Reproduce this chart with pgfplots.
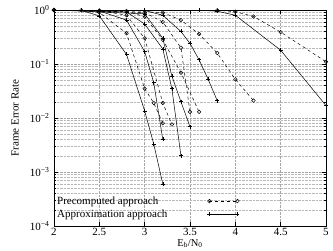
\documentclass[border=0pt]{standalone}
\usepackage{fontspec}
\setmainfont{Liberation Serif}
\usepackage{pgfplots}
\pgfplotsset{compat=1.18}
\begin{document}
\begin{tikzpicture}
\begin{axis}[
  scale only axis,
  width=272pt, height=216pt,
  xmin=2, xmax=5, ymode=log, ymin=1e-4, ymax=1,
  xtick={2,2.5,3,3.5,4,4.5,5},
  xticklabels={2,2.5,3,3.5,4,4.5,5},
  ytick={1e-4,1e-3,1e-2,1e-1,1},
  yticklabels={10\textsuperscript{−4},10\textsuperscript{−3},10\textsuperscript{−2},10\textsuperscript{−1},10\textsuperscript{0}},
  minor x tick num=0,
  grid=both,
  major grid style={densely dotted, gray!70, line width=0.4pt},
  minor grid style={densely dotted, gray!55, line width=0.3pt},
  tick align=inside, tick pos=both,
  axis line style={black, line width=0.5pt},
  tick style={black, line width=0.4pt},
  major tick length=4pt, minor tick length=2pt,
  font=\fontsize{11}{13}\selectfont,
  ticklabel style={font=\fontsize{11}{13}\selectfont},
  xticklabel style={inner sep=2pt},
  yticklabel style={xshift=-1pt},
  xlabel={E\textsubscript{b}/N\textsubscript{0}},
  ylabel={Frame Error Rate},
  every axis x label/.style={at={(axis description cs:0.5,0)}, anchor=north, yshift=-13pt, inner sep=0pt, font=\fontsize{10.5}{12}\selectfont},
  every axis y label/.style={at={(axis description cs:-0.143,0.5)}, anchor=center, rotate=90},
  legend plot pos=right,
  legend style={at={(axis cs:2,1e-4)}, anchor=south west, draw=none, fill=none,
    font=\fontsize{11}{12}\selectfont, row sep=0pt, column sep=38pt, inner sep=1pt,
    yshift=4pt, cells={anchor=west}},
  legend image code/.code={\draw[mark repeat=2,mark phase=1,#1] plot coordinates {(0pt,0pt) (14pt,0pt) (28pt,0pt)};},
  every axis plot/.append style={black, line width=0.5pt},
  sol/.style={solid, mark=+, mark size=2pt, mark options={solid}},
  das/.style={dashed, mark=o, mark size=1.8pt, mark options={solid}},
]
\addplot[das, forget plot] coordinates {(2,1) (2.3,0.99) (2.5,0.9) (2.8,0.37) (3.0,0.035) (3.1,0.019) (3.2,0.008)};
\addplot[sol, forget plot] coordinates {(2,1) (2.3,0.98) (2.5,0.78) (2.8,0.15) (3.0,0.0135) (3.1,0.0033) (3.2,0.0006)};
\addplot[das, forget plot] coordinates {(2,1) (2.5,0.98) (2.8,0.8) (3.0,0.3) (3.2,0.019) (3.3,0.0076)};
\addplot[sol, forget plot] coordinates {(2,1) (2.5,0.96) (2.8,0.65) (3.0,0.17) (3.1,0.045) (3.2,0.004)};
\addplot[das, forget plot] coordinates {(2,1) (2.8,0.96) (3.0,0.75) (3.2,0.28) (3.4,0.069) (3.6,0.013)};
\addplot[sol, forget plot] coordinates {(2,1) (2.8,0.92) (3.0,0.55) (3.2,0.19) (3.3,0.035) (3.4,0.002)};
\addplot[das, forget plot] coordinates {(2,1) (3.0,0.9) (3.2,0.6) (3.4,0.2) (3.5,0.013)};
\addplot[sol, forget plot] coordinates {(2,1) (3.0,0.85) (3.2,0.3) (3.3,0.06) (3.4,0.02) (3.5,0.0069)};
\addplot[das, forget plot] coordinates {(2,1) (3.2,0.9) (3.4,0.65) (3.6,0.36) (3.8,0.16) (4.0,0.052) (4.2,0.021)};
\addplot[sol, forget plot] coordinates {(2,1) (3.0,0.98) (3.2,0.8) (3.4,0.4) (3.5,0.24) (3.6,0.12) (3.7,0.052) (3.8,0.021)};
\addplot[das] coordinates {(2,1) (3.8,0.99) (4.0,0.93) (4.2,0.76) (4.5,0.39) (5,0.11)};
\addlegendentry{Precomputed approach}
\addplot[sol] coordinates {(2,1) (3.6,0.99) (3.8,0.95) (4.0,0.8) (4.5,0.18) (5,0.017)};
\addlegendentry{Approximation approach}
\end{axis}
\pgfresetboundingbox
\path[use as bounding box] (current axis.south west) ++(-54pt,-25pt) rectangle ++(333pt,251pt);
\end{tikzpicture}
\end{document}
